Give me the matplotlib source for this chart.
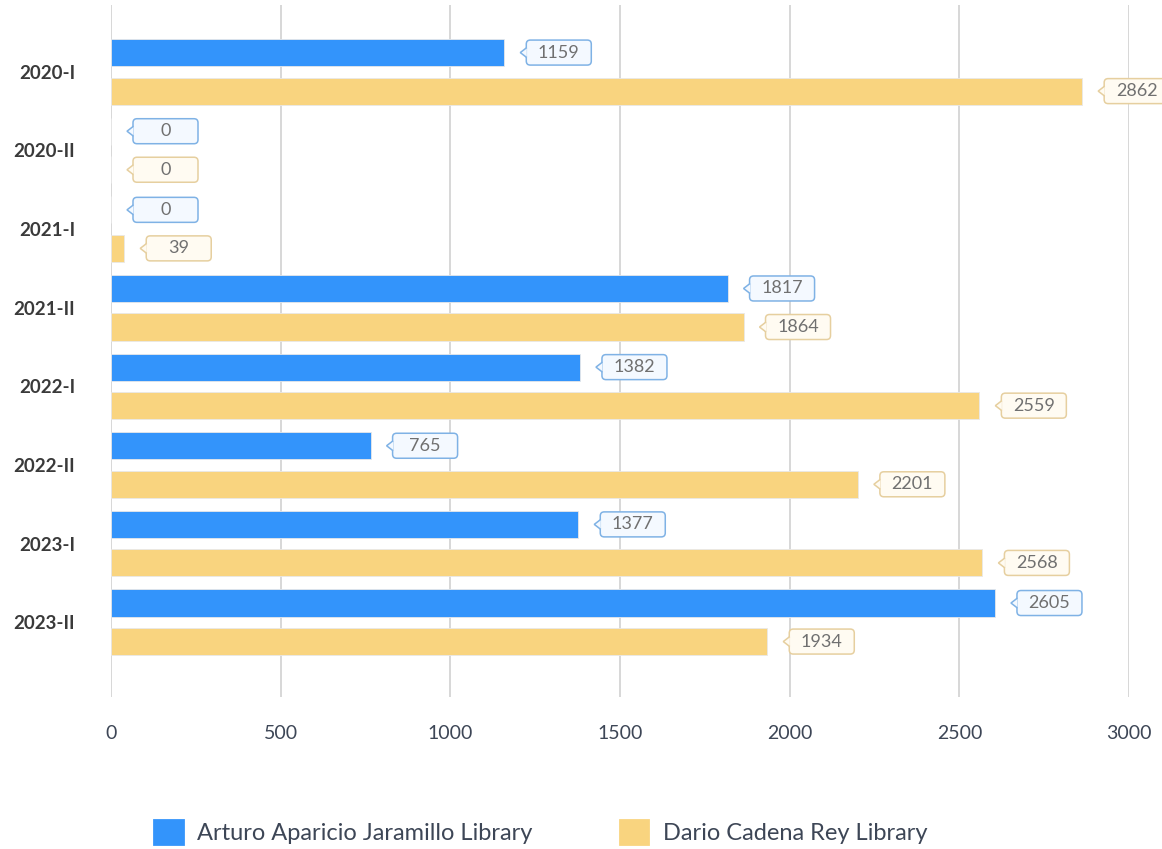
import matplotlib
matplotlib.use("Agg")
import matplotlib.pyplot as plt
from matplotlib.patches import FancyBboxPatch, Polygon, Patch

plt.rcParams["font.family"] = ["Lato", "DejaVu Sans"]

semesters = ["2020-I", "2020-II", "2021-I", "2021-II", "2022-I", "2022-II", "2023-I", "2023-II"]
arturo = [1159, 0, 0, 1817, 1382, 765, 1377, 2605]
dario = [2862, 0, 39, 1864, 2559, 2201, 2568, 1934]

series_names = ["Arturo Aparicio Jaramillo Library", "Dario Cadena Rey Library"]
bar_colors = ["#3394fb", "#f9d47f"]
box_edges = ["#7fb2e5", "#e6cf9f"]
box_fills = ["#f4f9ff", "#fffbf2"]

W, H = 1162, 849
fig = plt.figure(figsize=(W / 100, H / 100), dpi=100)
ax_l, ax_r, ax_t, ax_b = 111, 1129, 5, 697
ax = fig.add_axes([ax_l / W, 1 - ax_b / H, (ax_r - ax_l) / W, (ax_b - ax_t) / H])

xmax = 3000
ylim = (7.95, -0.85)
ax.set_xlim(0, xmax)
ax.set_ylim(*ylim)

# data units per pixel
ux = xmax / (ax_r - ax_l)
uy = (ylim[0] - ylim[1]) / (ax_b - ax_t)

bar_h = 0.345
offset = 0.245
for k, (vals, col) in enumerate([(arturo, bar_colors[0]), (dario, bar_colors[1])]):
    ys = [i + (offset if k else -offset) for i in range(len(semesters))]
    ax.barh(ys, vals, height=bar_h, color=col, edgecolor="#e8e8e8", linewidth=0.6, zorder=3)

    for v, y in zip(vals, ys):
        tip = v + 16 * ux
        left = v + 22 * ux
        bw, bh = 65 * ux, 25 * uy
        box = FancyBboxPatch((left, y - bh / 2), bw, bh,
                             boxstyle=f"round,pad=0,rounding_size={4 * ux}",
                             mutation_aspect=uy / ux,
                             facecolor=box_fills[k], edgecolor=box_edges[k],
                             linewidth=1.1, zorder=4, clip_on=False)
        ax.add_patch(box)
        notch = Polygon([(left + 0.5 * ux, y - 5 * uy), (tip, y), (left + 0.5 * ux, y + 5 * uy)],
                        closed=False, facecolor=box_fills[k], edgecolor=box_edges[k],
                        linewidth=1.1, zorder=5, clip_on=False)
        ax.add_patch(notch)
        ax.text(left + bw / 2, y, str(v), ha="center", va="center",
                fontsize=13, color="#707070", zorder=6, clip_on=False)

ax.set_yticks(range(len(semesters)))
ax.set_yticklabels(semesters, fontsize=13.5, fontweight="bold", color="#3a3a3a")
ax.set_xticks(range(0, xmax + 1, 500))
ax.tick_params(axis="x", length=0, pad=20, labelsize=14, labelcolor="#3d4656")
ax.tick_params(axis="y", length=0, pad=26)
ax.grid(axis="x", color="#d4d4d4", linewidth=1.3, zorder=0)
ax.set_axisbelow(True)
for s in ax.spines.values():
    s.set_visible(False)

handles = [Patch(facecolor=c, edgecolor=c, linewidth=2, joinstyle="round") for c in bar_colors]
fig.legend(handles, series_names, loc="center", bbox_to_anchor=(0.4656, 1 - 832 / H),
           ncol=2, frameon=False, fontsize=17, handlelength=1.2, handleheight=1.2,
           columnspacing=3.7, handletextpad=0.62, labelcolor="#3d4656")

fig.savefig("out.png", dpi=100, facecolor="white")
